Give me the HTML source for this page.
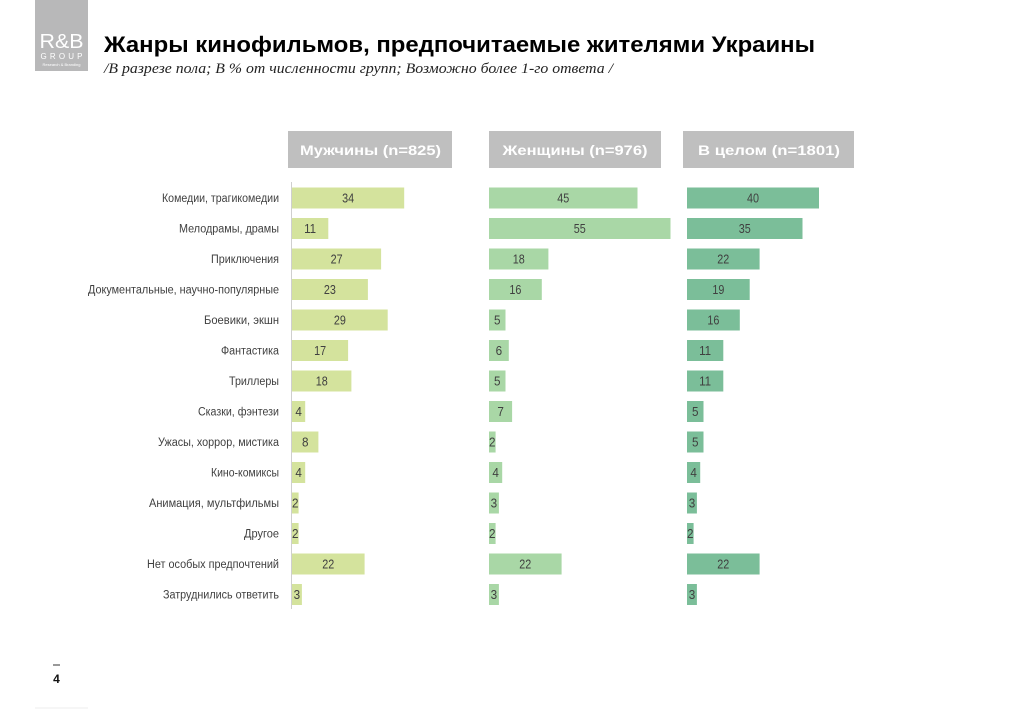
<!DOCTYPE html>
<html><head><meta charset="utf-8">
<style>
html,body{margin:0;padding:0;background:#fff;}
svg{display:block;}
text{font-family:"Liberation Sans",Arial,sans-serif;}
</style></head>
<body>
<svg width="1024" height="709" viewBox="0 0 1024 709" xmlns="http://www.w3.org/2000/svg">
<!-- logo -->
<rect x="35" y="0" width="53" height="71" fill="#b8b8b9"/>
<text x="61.5" y="48" font-size="20" fill="#fff" text-anchor="middle" textLength="44" lengthAdjust="spacingAndGlyphs">R&amp;B</text>
<text x="61.5" y="59" font-size="8" fill="#fff" text-anchor="middle" textLength="42" lengthAdjust="spacing">GROUP</text>
<text x="61.5" y="66" font-size="4" fill="#fff" text-anchor="middle" textLength="38" lengthAdjust="spacingAndGlyphs">Research &amp; Branding</text>
<!-- title -->
<text x="104" y="52" font-size="22" font-weight="bold" fill="#000" textLength="711" lengthAdjust="spacingAndGlyphs">Жанры кинофильмов, предпочитаемые жителями Украины</text>
<text x="104" y="73" font-size="15" font-style="italic" fill="#222" style="font-family:'Liberation Serif',serif" textLength="509" lengthAdjust="spacingAndGlyphs">/В разрезе пола; В % от численности групп; Возможно более 1-го ответа /</text>
<!-- headers -->
<rect x="288" y="131" width="164" height="37" fill="#bfbfbf"/>
<rect x="489" y="131" width="172" height="37" fill="#bfbfbf"/>
<rect x="683" y="131" width="171" height="37" fill="#bfbfbf"/>
<text x="370.5" y="155" font-size="14" font-weight="bold" fill="#fff" text-anchor="middle" textLength="141" lengthAdjust="spacingAndGlyphs">Мужчины (n=825)</text>
<text x="575" y="155" font-size="14" font-weight="bold" fill="#fff" text-anchor="middle" textLength="145" lengthAdjust="spacingAndGlyphs">Женщины (n=976)</text>
<text x="769" y="155" font-size="14" font-weight="bold" fill="#fff" text-anchor="middle" textLength="142" lengthAdjust="spacingAndGlyphs">В целом (n=1801)</text>
<!-- axis line -->
<line x1="291.5" y1="182" x2="291.5" y2="609" stroke="#cfcfcf" stroke-width="1"/>
<g id="chart"></g>
<!-- page number -->
<line x1="53" y1="665" x2="60" y2="665" stroke="#777" stroke-width="1.5"/>
<text x="56.5" y="683" font-size="12" font-weight="bold" fill="#111" text-anchor="middle">4</text>
<line x1="35" y1="708" x2="88" y2="708" stroke="#eee" stroke-width="1"/>
</svg>
<script>
(function(){
var labels=[["Комедии, трагикомедии",117],["Мелодрамы, драмы",100],["Приключения",68],["Документальные, научно-популярные",191],["Боевики, экшн",75],["Фантастика",58],["Триллеры",50],["Сказки, фэнтези",81],["Ужасы, хоррор, мистика",121],["Кино-комиксы",68],["Анимация, мультфильмы",130],["Другое",35],["Нет особых предпочтений",132],["Затруднились ответить",116]];
var men=[34,11,27,23,29,17,18,4,8,4,2,2,22,3];
var women=[45,55,18,16,5,6,5,7,2,4,3,2,22,3];
var tot=[40,35,22,19,16,11,11,5,5,4,3,2,22,3];
var cols=[[292,men,"#d4e39d"],[489,women,"#a9d7a6"],[687,tot,"#7bbe99"]];
var s=3.3;
var g=document.getElementById("chart");
var html="";
for(var i=0;i<14;i++){
  var cy=198+i*30.5;
  html+='<text x="279" y="'+(cy+4)+'" font-size="11.5" fill="#404040" text-anchor="end" textLength="'+labels[i][1]+'" lengthAdjust="spacingAndGlyphs">'+labels[i][0]+'</text>';
  for(var c=0;c<3;c++){
    var x0=cols[c][0],v=cols[c][1][i],w=v*s;
    html+='<rect x="'+x0+'" y="'+(cy-10.5)+'" width="'+w.toFixed(1)+'" height="21" fill="'+cols[c][2]+'"/>';
    var tw=(String(v).length==1)?6.5:12;
    html+='<text x="'+(x0+w/2).toFixed(1)+'" y="'+(cy+4.5)+'" font-size="12.5" fill="#404040" text-anchor="middle" textLength="'+tw+'" lengthAdjust="spacingAndGlyphs">'+v+'</text>';
  }
}
g.innerHTML=html;
})();
</script>
</body></html>
